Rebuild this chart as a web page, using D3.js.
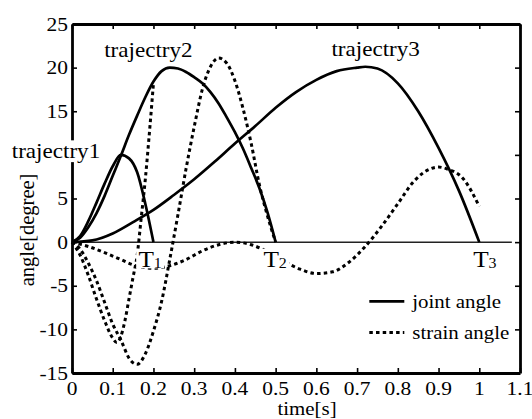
<!DOCTYPE html>
<html>
<head>
<meta charset="utf-8">
<script src="https://cdn.jsdelivr.net/npm/d3@7.9.0/dist/d3.min.js"></script>
<style>
  html, body { margin: 0; padding: 0; background: #fff; }
  svg { display: block; font-family: "Liberation Serif", "Times New Roman", serif; }
</style>
</head>
<body>
<svg id="chart" width="532" height="419"></svg>
<script>
// trajectory 1 (ends at T1 = 0.2 s)
const time1 = [0, 0.02, 0.04, 0.06, 0.08, 0.1, 0.12, 0.14, 0.16, 0.18, 0.2];
const joint1 = [0, 0.7, 2.4, 4.5, 6.7, 8.7, 10.0, 9.6, 8.0, 4.4, 0];
const strainTime1 = [0, 0.02, 0.04, 0.06, 0.08, 0.1, 0.11, 0.12, 0.13, 0.14, 0.15, 0.16, 0.17, 0.18, 0.19, 0.2];
const strain1 = [0, -1.5, -3.8, -6.5, -9.0, -11.0, -11.5, -10.8, -9.0, -6.5, -4.0, -1.5, 2.8, 7.2, 12.5, 18.2];

// trajectory 2 (ends at T2 = 0.5 s)
const time2 = [0, 0.02, 0.04, 0.06, 0.08, 0.1, 0.12, 0.14, 0.16, 0.18, 0.2, 0.22, 0.24,
  0.26, 0.28, 0.3, 0.32, 0.34, 0.36, 0.38, 0.4, 0.42, 0.44, 0.46, 0.48, 0.5];
const joint2 = [0, 0.5, 1.7, 3.3, 5.3, 7.6, 9.9, 12.3, 14.5, 16.6, 18.4, 19.6, 20.0,
  19.9, 19.5, 18.9, 18.2, 17.2, 15.9, 14.3, 12.6, 10.7, 8.5, 6.2, 3.4, 0];
const strain2 = [0, -0.8, -2.4, -4.4, -6.9, -9.4, -11.2, -13.3, -14.0, -12.8, -10.2, -6.8, -2.0,
  3.1, 8.4, 13.2, 17.5, 20.1, 21.1, 20.5, 18.5, 15.3, 11.3, 6.6, 3.0, 0];

// trajectory 3 (ends at T3 = 1.0 s)
const time3 = [0, 0.05, 0.1, 0.15, 0.2, 0.25, 0.3, 0.35, 0.4, 0.45, 0.5, 0.55, 0.6, 0.65,
  0.7, 0.72, 0.75, 0.8, 0.85, 0.9, 0.95, 1.0];
const joint3 = [0, 0.2, 1.0, 2.3, 3.7, 5.4, 7.2, 9.2, 11.3, 13.3, 15.4, 17.2, 18.6, 19.6,
  20.0, 20.1, 19.9, 18.2, 15.0, 10.8, 5.9, 0];
const strainTime3 = [0, 0.04, 0.08, 0.12, 0.15, 0.2, 0.24, 0.28, 0.32, 0.36, 0.4, 0.44, 0.48,
  0.52, 0.56, 0.6, 0.64, 0.68, 0.72, 0.76, 0.8, 0.84, 0.88, 0.9, 0.92, 0.96, 1.0];
const strain3 = [0, -0.5, -1.2, -2.0, -2.6, -3.0, -2.7, -2.0, -1.0, -0.3, 0, -0.3, -1.1,
  -2.2, -3.1, -3.6, -3.4, -2.3, -0.5, 1.8, 4.4, 7.0, 8.4, 8.6, 8.4, 7.3, 4.1];

// axes
const xTicks = [0, 0.1, 0.2, 0.3, 0.4, 0.5, 0.6, 0.7, 0.8, 0.9, 1, 1.1];
const yTicks = [-15, -10, -5, 0, 5, 10, 15, 20, 25];
// the "10" label is covered by the trajectry1 label in the original
const yTickLabels = [-15, -10, -5, 0, 5, 15, 20, 25];
const zeroLineExtent = [0, 1.08];

// annotations (anchored in data space)
const trajLabels = [
  { text: 'trajectry1', t: -0.148, v: 9.6, boxed: true },
  { text: 'trajectry2', t: 0.079, v: 21.2, boxed: false },
  { text: 'trajectry3', t: 0.637, v: 21.3, boxed: false },
];
const endLabels = [
  { main: 'T', sub: '1', t: 0.163 },
  { main: 'T', sub: '2', t: 0.470 },
  { main: 'T', sub: '3', t: 0.985 },
];
const legendItems = [
  { label: 'joint angle', dash: null },
  { label: 'strain angle', dash: '3.5,3.2' },
];

const width = 532;
const height = 419;
const margin = { top: 24, right: 12, bottom: 46, left: 72 };
const sx = 1.1; // glyphs in the original are slightly wide

const svg = d3.select('#chart');

const x = d3.scaleLinear().domain([0, 1.1]).range([margin.left, width - margin.right]);
const y = d3.scaleLinear().domain([-15, 25]).range([height - margin.bottom, margin.top]);

const line = d3.line()
  .x((d) => x(d[0]))
  .y((d) => y(d[1]))
  .curve(d3.curveMonotoneX);

// zero reference line
svg.append('line')
  .attr('x1', x(zeroLineExtent[0])).attr('x2', x(zeroLineExtent[1]))
  .attr('y1', y(0)).attr('y2', y(0))
  .attr('stroke', '#222').attr('stroke-width', 1.5);

const joints = [[time1, joint1], [time2, joint2], [time3, joint3]];
const strains = [[strainTime1, strain1], [time2, strain2], [strainTime3, strain3]];

svg.append('g').selectAll('path')
  .data(strains.map(([t, v]) => d3.zip(t, v)))
  .join('path')
  .attr('d', line)
  .attr('fill', 'none')
  .attr('stroke', '#000')
  .attr('stroke-width', 3)
  .attr('stroke-dasharray', '3.5,3.2');

svg.append('g').selectAll('path')
  .data(joints.map(([t, v]) => d3.zip(t, v)))
  .join('path')
  .attr('d', line)
  .attr('fill', 'none')
  .attr('stroke', '#000')
  .attr('stroke-width', 2.7)
  .attr('stroke-linejoin', 'round');

// frame with inward ticks on all four sides
const tickLen = 5;
const frame = svg.append('g');
frame.append('g')
  .attr('transform', `translate(0,${y(-15)})`)
  .call(d3.axisBottom(x).tickValues(xTicks).tickSizeInner(-tickLen).tickSizeOuter(0).tickFormat(''));
frame.append('g')
  .attr('transform', `translate(0,${y(25)})`)
  .call(d3.axisTop(x).tickValues(xTicks).tickSizeInner(-tickLen).tickSizeOuter(0).tickFormat(''));
frame.append('g')
  .attr('transform', `translate(${x(0)},0)`)
  .call(d3.axisLeft(y).tickValues(yTicks).tickSizeInner(-tickLen).tickSizeOuter(0).tickFormat(''));
frame.append('g')
  .attr('transform', `translate(${x(1.1)},0)`)
  .call(d3.axisRight(y).tickValues(yTicks).tickSizeInner(-tickLen).tickSizeOuter(0).tickFormat(''));
frame.selectAll('.domain').attr('stroke', '#000').attr('stroke-width', 2.8);
frame.selectAll('.tick line').attr('stroke', '#000').attr('stroke-width', 1.6);

// tick labels
svg.append('g').selectAll('text')
  .data(xTicks)
  .join('text')
  .attr('transform', (d) => `translate(${x(d)},${y(-15) + 22}) scale(${sx},1)`)
  .attr('text-anchor', 'middle')
  .attr('font-size', 19.5)
  .text((d) => String(d));

svg.append('g').selectAll('text')
  .data(yTickLabels)
  .join('text')
  .attr('transform', (d) => `translate(${x(0) - 4},${y(d) + 6.5}) scale(${sx},1)`)
  .attr('text-anchor', 'end')
  .attr('font-size', 19.5)
  .text((d) => String(d));

// axis titles
svg.append('text')
  .attr('transform', `translate(${(x(0) + x(1.1)) / 2 + 11},${height - 4}) scale(${sx},1)`)
  .attr('text-anchor', 'middle')
  .attr('font-size', 19)
  .text('time[s]');

svg.append('text')
  .attr('transform', `translate(34,${y(1.4)}) rotate(-90)`)
  .attr('text-anchor', 'middle')
  .attr('font-size', 20.5)
  .text('angle[degree]');

// white box behind a text, sized from the text itself
function boxBehind(g, padX, padY) {
  const b = g.select('text').node().getBBox();
  g.insert('rect', 'text')
    .attr('x', b.x - padX).attr('y', b.y - padY)
    .attr('width', b.width + 2 * padX).attr('height', b.height + 2 * padY)
    .attr('fill', '#fff');
}

// trajectory names
svg.append('g').selectAll('g')
  .data(trajLabels)
  .join('g')
  .attr('transform', (d) => `translate(${x(d.t)},${y(d.v)}) scale(${sx},1)`)
  .each(function (d) {
    const g = d3.select(this);
    g.append('text').attr('font-size', 21).text(d.text);
    if (d.boxed) boxBehind(g, 1, -1);
  });

// end-time markers T1, T2, T3
svg.append('g').selectAll('g')
  .data(endLabels)
  .join('g')
  .attr('transform', (d) => `translate(${x(d.t)},${y(0) + 24.5}) scale(${sx},1)`)
  .each(function (d) {
    const g = d3.select(this);
    const t = g.append('text').attr('font-size', 23);
    t.append('tspan').text(d.main);
    t.append('tspan').attr('font-size', 14.5).attr('dy', 1).text(d.sub);
    boxBehind(g, 2, -3);
  });

// legend
const legend = svg.append('g').attr('transform', `translate(${x(0.73)},${y(-6.8)})`);
legendItems.forEach((item, i) => {
  const row = legend.append('g').attr('transform', `translate(0,${i * 31})`);
  row.append('line')
    .attr('x1', 0).attr('x2', 35)
    .attr('y1', 0).attr('y2', 0)
    .attr('stroke', '#000')
    .attr('stroke-width', i === 0 ? 2.8 : 3)
    .attr('stroke-dasharray', item.dash);
  row.append('text')
    .attr('transform', `translate(43,6.5) scale(${sx},1)`)
    .attr('font-size', 19)
    .text(item.label);
});
</script>
</body>
</html>
